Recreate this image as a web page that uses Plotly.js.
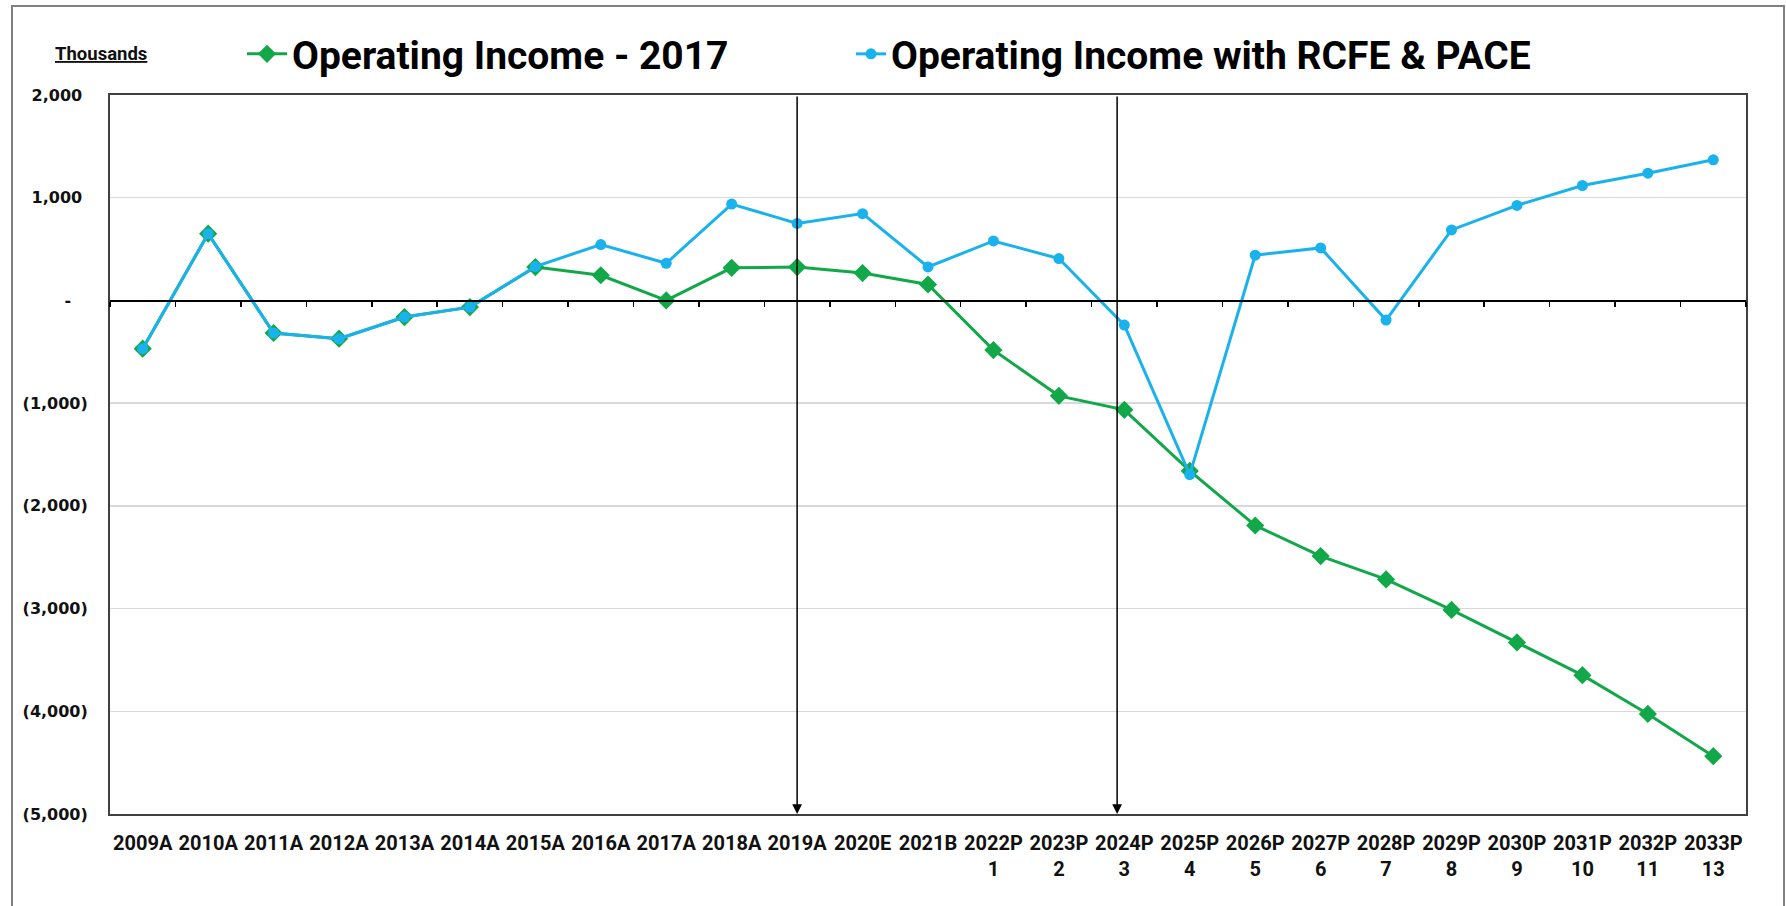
<!DOCTYPE html>
<html>
<head>
<meta charset="utf-8">
<script src="https://cdn.plot.ly/plotly-3.0.1.min.js"></script>
<style>
html,body{margin:0;padding:0;background:#fff;}
#chart{width:1786px;height:906px;}
</style>
</head>
<body>
<div id="chart"></div>
<script>
// ---- data ----
const categories = ['2009A','2010A','2011A','2012A','2013A','2014A','2015A','2016A','2017A','2018A','2019A','2020E','2021B',
  '2022P','2023P','2024P','2025P','2026P','2027P','2028P','2029P','2030P','2031P','2032P','2033P'];
const periodNumbers = ['','','','','','','','','','','','','',
  '1','2','3','4','5','6','7','8','9','10','11','13'];
const income2017 = [-470, 650, -317, -372, -162, -65, 325, 245, 0, 317, 325, 266, 155,
  -483, -929, -1065, -1660, -2191, -2489, -2716, -3013, -3330, -3648, -4026, -4437];
const incomeRcfePace = [-470, 650, -317, -372, -162, -65, 330, 544, 362, 938, 750, 845, 326,
  579, 408, -240, -1696, 440, 511, -191, 686, 925, 1119, 1239, 1369];
const yTickVals = [2000, 1000, 0, -1000, -2000, -3000, -4000, -5000];
const yTickText = ['2,000\u00A0', '1,000\u00A0', '-\u00A0\u00A0\u00A0', '(1,000)', '(2,000)', '(3,000)', '(4,000)', '(5,000)'];
const markerCategories = ['2019A', '2024P'];
const markerShift = [0, -0.11];
const seriesNames = ['Operating Income - 2017', 'Operating Income with RCFE & PACE'];

// ---- build ----
const yMin = Math.min(...yTickVals), yMax = Math.max(...yTickVals);
const xTickText = categories.map((c, i) => periodNumbers[i] ? c + '<br>' + periodNumbers[i] : c);
const GREEN = '#12A84A', BLUE = '#1AB2EC';
const labelFont = 'Roboto, "Liberation Sans", sans-serif';

const traces = [
  {
    x: categories, y: income2017, name: seriesNames[0], type: 'scatter', mode: 'lines+markers',
    line: {color: GREEN, width: 3},
    marker: {symbol: 'diamond', size: 14, color: GREEN},
    legend: 'legend'
  },
  {
    x: categories, y: incomeRcfePace, name: seriesNames[1], type: 'scatter', mode: 'lines+markers',
    line: {color: BLUE, width: 3},
    marker: {symbol: 'circle', size: 11, color: BLUE},
    legend: 'legend2'
  },
  {
    // carrier for the zero-crossing category axis (ticks on the zero line)
    x: categories.map((c, i) => i), y: income2017, xaxis: 'x2', yaxis: 'y',
    type: 'scatter', mode: 'lines', line: {width: 0, color: 'rgba(0,0,0,0)'},
    opacity: 0, showlegend: false, hoverinfo: 'skip'
  }
];

const L = 110, R = 40, T = 95, B = 92, W = 1786, H = 906;
const pw = W - L - R, ph = H - T - B;
const px2paperX = p => (p - L) / pw;
const px2paperY = p => (H - B - p) / ph;

const annotations = [
  {
    xref: 'paper', yref: 'paper', x: px2paperX(53), y: px2paperY(54),
    xanchor: 'left', yanchor: 'middle', showarrow: false,
    text: '<b><u>Thousands</u></b>',
    font: {family: labelFont, size: 18.5, color: '#111'}
  }
];
markerCategories.forEach((c, k) => {
  const idx = categories.indexOf(c) + markerShift[k];
  annotations.push({
    xref: 'x', yref: 'y', axref: 'x', ayref: 'y',
    x: idx, y: yMin, ax: idx, ay: yMax,
    text: '', showarrow: true, arrowhead: 2, arrowsize: 1.3, arrowwidth: 1.5,
    arrowcolor: '#000', standoff: 0, startstandoff: 0
  });
});

const legendBase = {
  orientation: 'h', xref: 'container', yref: 'container',
  xanchor: 'left', yanchor: 'middle', y: 1 - 54 / H,
  font: {family: labelFont, size: 39, weight: 'bold', color: '#000'},
  bgcolor: 'rgba(0,0,0,0)', borderwidth: 0
};

const layout = {
  width: W, height: H,
  margin: {l: L, r: R, t: T, b: B, pad: 0},
  paper_bgcolor: '#fff', plot_bgcolor: '#fff',
  showlegend: true,
  legend: Object.assign({}, legendBase, {x: 242 / W, itemwidth: 40}),
  legend2: Object.assign({}, legendBase, {x: 851 / W, itemwidth: 30}),
  xaxis: {
    type: 'category', categoryorder: 'array', categoryarray: categories,
    range: [-0.5, categories.length - 0.5],
    tickmode: 'array', tickvals: categories, ticktext: xTickText,
    tickfont: {family: labelFont, size: 20, weight: 'bold', color: '#111'},
    ticks: '', ticklabelstandoff: 10,
    showline: true, mirror: true, linecolor: '#404040', linewidth: 2,
    showgrid: false, zeroline: false, fixedrange: true
  },
  xaxis2: {
    overlaying: 'x', anchor: 'free', position: (0 - yMin) / (yMax - yMin), side: 'bottom',
    type: 'linear', range: [-0.5, categories.length - 0.5],
    tickmode: 'linear', tick0: -0.5, dtick: 1,
    ticks: 'outside', ticklen: 5, tickwidth: 1.5, tickcolor: '#000',
    showticklabels: false, showgrid: false, zeroline: false,
    showline: true, linecolor: '#000', linewidth: 1.5, fixedrange: true
  },
  yaxis: {
    range: [yMin, yMax], tickmode: 'array', tickvals: yTickVals, ticktext: yTickText,
    tickfont: {family: '"DejaVu Sans", Verdana, sans-serif', size: 16, weight: 'bold', color: '#111'},
    ticks: '', ticklabelstandoff: 17,
    showgrid: true, gridcolor: '#d9d9d9', gridwidth: 1.5,
    zeroline: true, zerolinecolor: '#000', zerolinewidth: 1.5,
    showline: true, mirror: true, linecolor: '#404040', linewidth: 2, fixedrange: true
  },
  annotations: annotations,
  shapes: [
    {
      type: 'rect', xref: 'paper', yref: 'paper',
      x0: px2paperX(12), x1: px2paperX(1784), y0: px2paperY(930), y1: px2paperY(6),
      line: {color: '#808080', width: 2}, fillcolor: 'rgba(0,0,0,0)', layer: 'below'
    }
  ]
};

Plotly.newPlot('chart', traces, layout, {displayModeBar: false, staticPlot: true});
</script>
</body>
</html>
